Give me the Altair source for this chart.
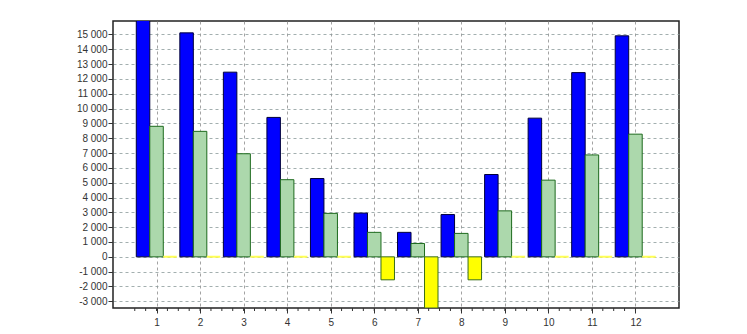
import altair as alt
import pandas as pd

months = list(range(1, 13))
blue_vals = [16200, 15100, 12450, 9400, 5280, 2950, 1650, 2850, 5550, 9350, 12420, 14900]
green_vals = [8800, 8460, 6950, 5200, 2930, 1650, 900, 1580, 3100, 5170, 6870, 8270]
yellow_vals = [0, 0, 0, 0, 0, -1550, -3450, -1550, 0, 0, 0, 0]
y_ticks = list(range(-3000, 16000, 1000))
minor_ticks = [i * 0.25 for i in range(2, 49)]

rows = []
for s_idx, (name, vals) in enumerate([("A", blue_vals), ("B", green_vals), ("C", yellow_vals)]):
    for m, v in zip(months, vals):
        rows.append({"month": m, "series": name, "idx": s_idx, "value": v})
df = pd.DataFrame(rows)

W = 566
H = 287
bw = 0.31

xscale = alt.Scale(domain=[0, 13], nice=False, zero=False)
yscale = alt.Scale(domain=[-3450, 15900], nice=False, zero=False)

base = alt.Chart(df).transform_calculate(
    x0=f"datum.month - 1.5*{bw} + datum.idx*{bw}",
    x1=f"datum.month - 0.5*{bw} + datum.idx*{bw}",
)

xaxis = alt.Axis(values=months, format="d", title=None, grid=True, gridDash=[3, 3],
                 gridColor="#8c8c8c", gridWidth=0.8, tickSize=5, tickColor="#333",
                 labelPadding=4, labelFont="Liberation Sans", labelFontSize=10,
                 labelColor="#333", domain=False, labelOverlap=False)
yaxis = alt.Axis(values=y_ticks, tickCount=20, title=None, grid=True, gridDash=[3, 3],
                 gridColor="#8c9a9a", gridWidth=0.8, tickSize=5, tickColor="#333",
                 labelPadding=1, labelFont="Liberation Sans", labelFontSize=10,
                 labelColor="#333", domain=False, labelOverlap=False, labelBound=False,
                 labelExpr="replace(replace(format(datum.value, ','), ',', ' '), '\u2212', '-')")


def bars(series, fill, stroke, sw):
    return base.transform_filter(f"datum.series == '{series}'").mark_bar(
        fill=fill, clip=True
    ).encode(
        x=alt.X("x0:Q", scale=xscale, axis=xaxis),
        x2="x1:Q",
        y=alt.Y("value:Q", scale=yscale, axis=yaxis),
        y2=alt.datum(0),
        stroke=stroke,
        strokeWidth=sw,
    )


blue = bars("A", "#0000ff", alt.value("#00003a"), alt.value(1))
green = bars("B", "#acd8ac", alt.value("#1d6a1d"), alt.value(1))
yellow = bars("C", "#ffff00",
              alt.condition("datum.value < 0", alt.value("#3a6e1a"), alt.value("#ffff55")),
              alt.condition("datum.value < 0", alt.value(1), alt.value(2)))

minor = alt.Chart(pd.DataFrame({"t": minor_ticks})).mark_rule(
    color="#333", strokeWidth=1
).encode(
    x=alt.X("t:Q", scale=xscale, axis=xaxis),
    y=alt.value(H),
    y2=alt.value(H + 3),
)

chart = alt.layer(blue, green, yellow, minor).properties(
    width=W, height=H,
    autosize=alt.AutoSizeParams(type="none"),
    padding={"left": 113, "top": 21, "right": 68, "bottom": 26},
    background="white",
).configure_view(
    stroke="#222", strokeWidth=1.5
)

chart.save("out.html", embed_options={"renderer": "svg", "actions": False})
